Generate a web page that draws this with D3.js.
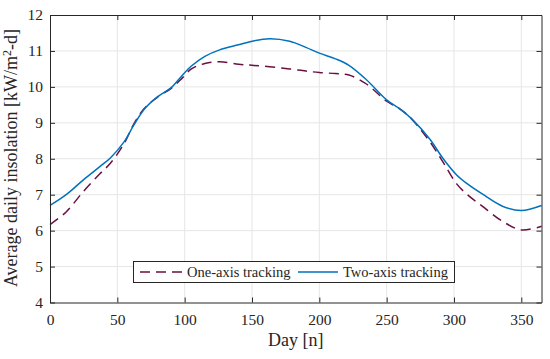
<!DOCTYPE html>
<html lang="en-us">
<head>
  <meta charset="UTF-8">
  <title>Average daily insolation</title>
  <script src="https://cdn.jsdelivr.net/npm/d3@7/dist/d3.min.js"></script>
  <style>
    body { margin: 0; background: #fff; }
    svg text { font-family: "Liberation Serif", "Times New Roman", Times, serif !important; fill: #262626; }
  </style>
</head>
<body>
<div id="chart"></div>
<script>

// day of the year
var days = [0, 12, 25, 37, 45, 55, 62, 70, 80, 90, 97, 105, 115, 126, 140, 150, 163, 178, 190,
            200, 212, 222, 235, 250, 260, 268, 282, 292, 302, 310, 321, 336, 350, 365];

// two-axis tracking, kW/m2-d
var twoAxis = [6.7, 7.0, 7.42, 7.78, 8.03, 8.47, 8.92, 9.38, 9.73, 9.98, 10.27, 10.58, 10.85, 11.03,
               11.17, 11.27, 11.34, 11.27, 11.1, 10.94, 10.78, 10.6, 10.2, 9.64, 9.38, 9.13, 8.55,
               8.0, 7.55, 7.3, 7.02, 6.68, 6.56, 6.7];

// one-axis tracking, kW/m2-d
var oneAxis = [6.17, 6.52, 7.1, 7.58, 7.88, 8.42, 8.95, 9.4, 9.72, 9.96, 10.2, 10.5, 10.65, 10.7,
               10.63, 10.6, 10.56, 10.5, 10.44, 10.4, 10.37, 10.33, 10.08, 9.6, 9.38, 9.13, 8.48,
               7.9, 7.3, 7.0, 6.68, 6.26, 6.02, 6.12];

var xTicks = [0, 50, 100, 150, 200, 250, 300, 350];
var yTicks = [4, 5, 6, 7, 8, 9, 10, 11, 12];

var width = 550, height = 359;
var pLeft = 50, pRight = 541.5, pTop = 15, pBottom = 302.5;
var serif = "'Liberation Serif', 'Times New Roman', serif";

var svg = d3.select("#chart").append("svg")
  .attr("width", width)
  .attr("height", height);

var x = d3.scaleLinear().domain([0, 365]).range([pLeft, pRight]);
var y = d3.scaleLinear().domain([4, 12]).range([pBottom, pTop]);

// grid
svg.append("g").selectAll("line").data(xTicks.filter(function(d){ return d > 0; }))
  .enter().append("line")
  .attr("x1", function(d){ return x(d); }).attr("x2", function(d){ return x(d); })
  .attr("y1", pTop).attr("y2", pBottom)
  .attr("stroke", "#e6e6e6").attr("stroke-width", 1);
svg.append("g").selectAll("line").data(yTicks.filter(function(d){ return d > 4 && d < 12; }))
  .enter().append("line")
  .attr("x1", pLeft).attr("x2", pRight)
  .attr("y1", function(d){ return y(d); }).attr("y2", function(d){ return y(d); })
  .attr("stroke", "#e6e6e6").attr("stroke-width", 1);

// curves
var lineOf = function(vals) {
  return d3.line()
    .x(function(d, i){ return x(days[i]); })
    .y(function(d){ return y(d); })
    .curve(d3.curveCatmullRom.alpha(0.5))(vals);
};

svg.append("path").attr("d", lineOf(oneAxis))
  .attr("fill", "none").attr("stroke", "#6a1140").attr("stroke-width", 1.5)
  .attr("stroke-dasharray", "10,6");
svg.append("path").attr("d", lineOf(twoAxis))
  .attr("fill", "none").attr("stroke", "#0072bd").attr("stroke-width", 1.5);

// axes (ticks inward, box)
var xAxis = d3.axisBottom(x).tickValues(xTicks).tickSizeInner(-5).tickSizeOuter(0).tickPadding(11);
var yAxis = d3.axisLeft(y).tickValues(yTicks).tickSizeInner(-5).tickSizeOuter(0).tickPadding(7);

svg.append("g").attr("transform", "translate(0," + pBottom + ")").call(xAxis);
svg.append("g").attr("transform", "translate(" + pLeft + ",0)").call(yAxis);
svg.append("g").attr("transform", "translate(0," + pTop + ")")
  .call(d3.axisTop(x).tickValues(xTicks).tickSizeInner(-5).tickSizeOuter(0).tickFormat(""));
svg.append("g").attr("transform", "translate(" + pRight + ",0)")
  .call(d3.axisRight(y).tickValues(yTicks).tickSizeInner(-5).tickSizeOuter(0).tickFormat(""));

svg.selectAll("g").attr("font-family", null).attr("font-size", null);
svg.selectAll(".domain").attr("stroke", "#262626");
svg.selectAll(".tick line").attr("stroke", "#262626");
svg.selectAll(".tick text").style("font-size", "15.5px").style("font-family", serif)
  .attr("fill", "#262626");

// axis labels
svg.append("text").attr("x", (pLeft + pRight) / 2).attr("y", 346)
  .attr("text-anchor", "middle").style("font-size", "18px").text("Day [n]");

var yl = svg.append("text")
  .attr("transform", "translate(17,158) rotate(-90)")
  .attr("text-anchor", "middle").style("font-size", "18px");
yl.append("tspan").text("Average daily insolation [kW/m");
yl.append("tspan").attr("dy", -6).style("font-size", "12px").text("2");
yl.append("tspan").attr("dy", 6).text("-d]");

// legend
var lg = svg.append("g");
lg.append("rect").attr("x", 133.5).attr("y", 261.5).attr("width", 321).attr("height", 21)
  .attr("fill", "#fff").attr("stroke", "#262626").attr("stroke-width", 1);
lg.append("line").attr("x1", 140).attr("x2", 184).attr("y1", 272).attr("y2", 272)
  .attr("stroke", "#6a1140").attr("stroke-width", 1.5).attr("stroke-dasharray", "10,6");
lg.append("text").attr("x", 187).attr("y", 277).style("font-size", "14.5px").text("One-axis tracking");
lg.append("line").attr("x1", 298).attr("x2", 338).attr("y1", 272).attr("y2", 272)
  .attr("stroke", "#0072bd").attr("stroke-width", 1.5);
lg.append("text").attr("x", 343).attr("y", 277).style("font-size", "14.5px").text("Two-axis tracking");

</script>
</body>
</html>
